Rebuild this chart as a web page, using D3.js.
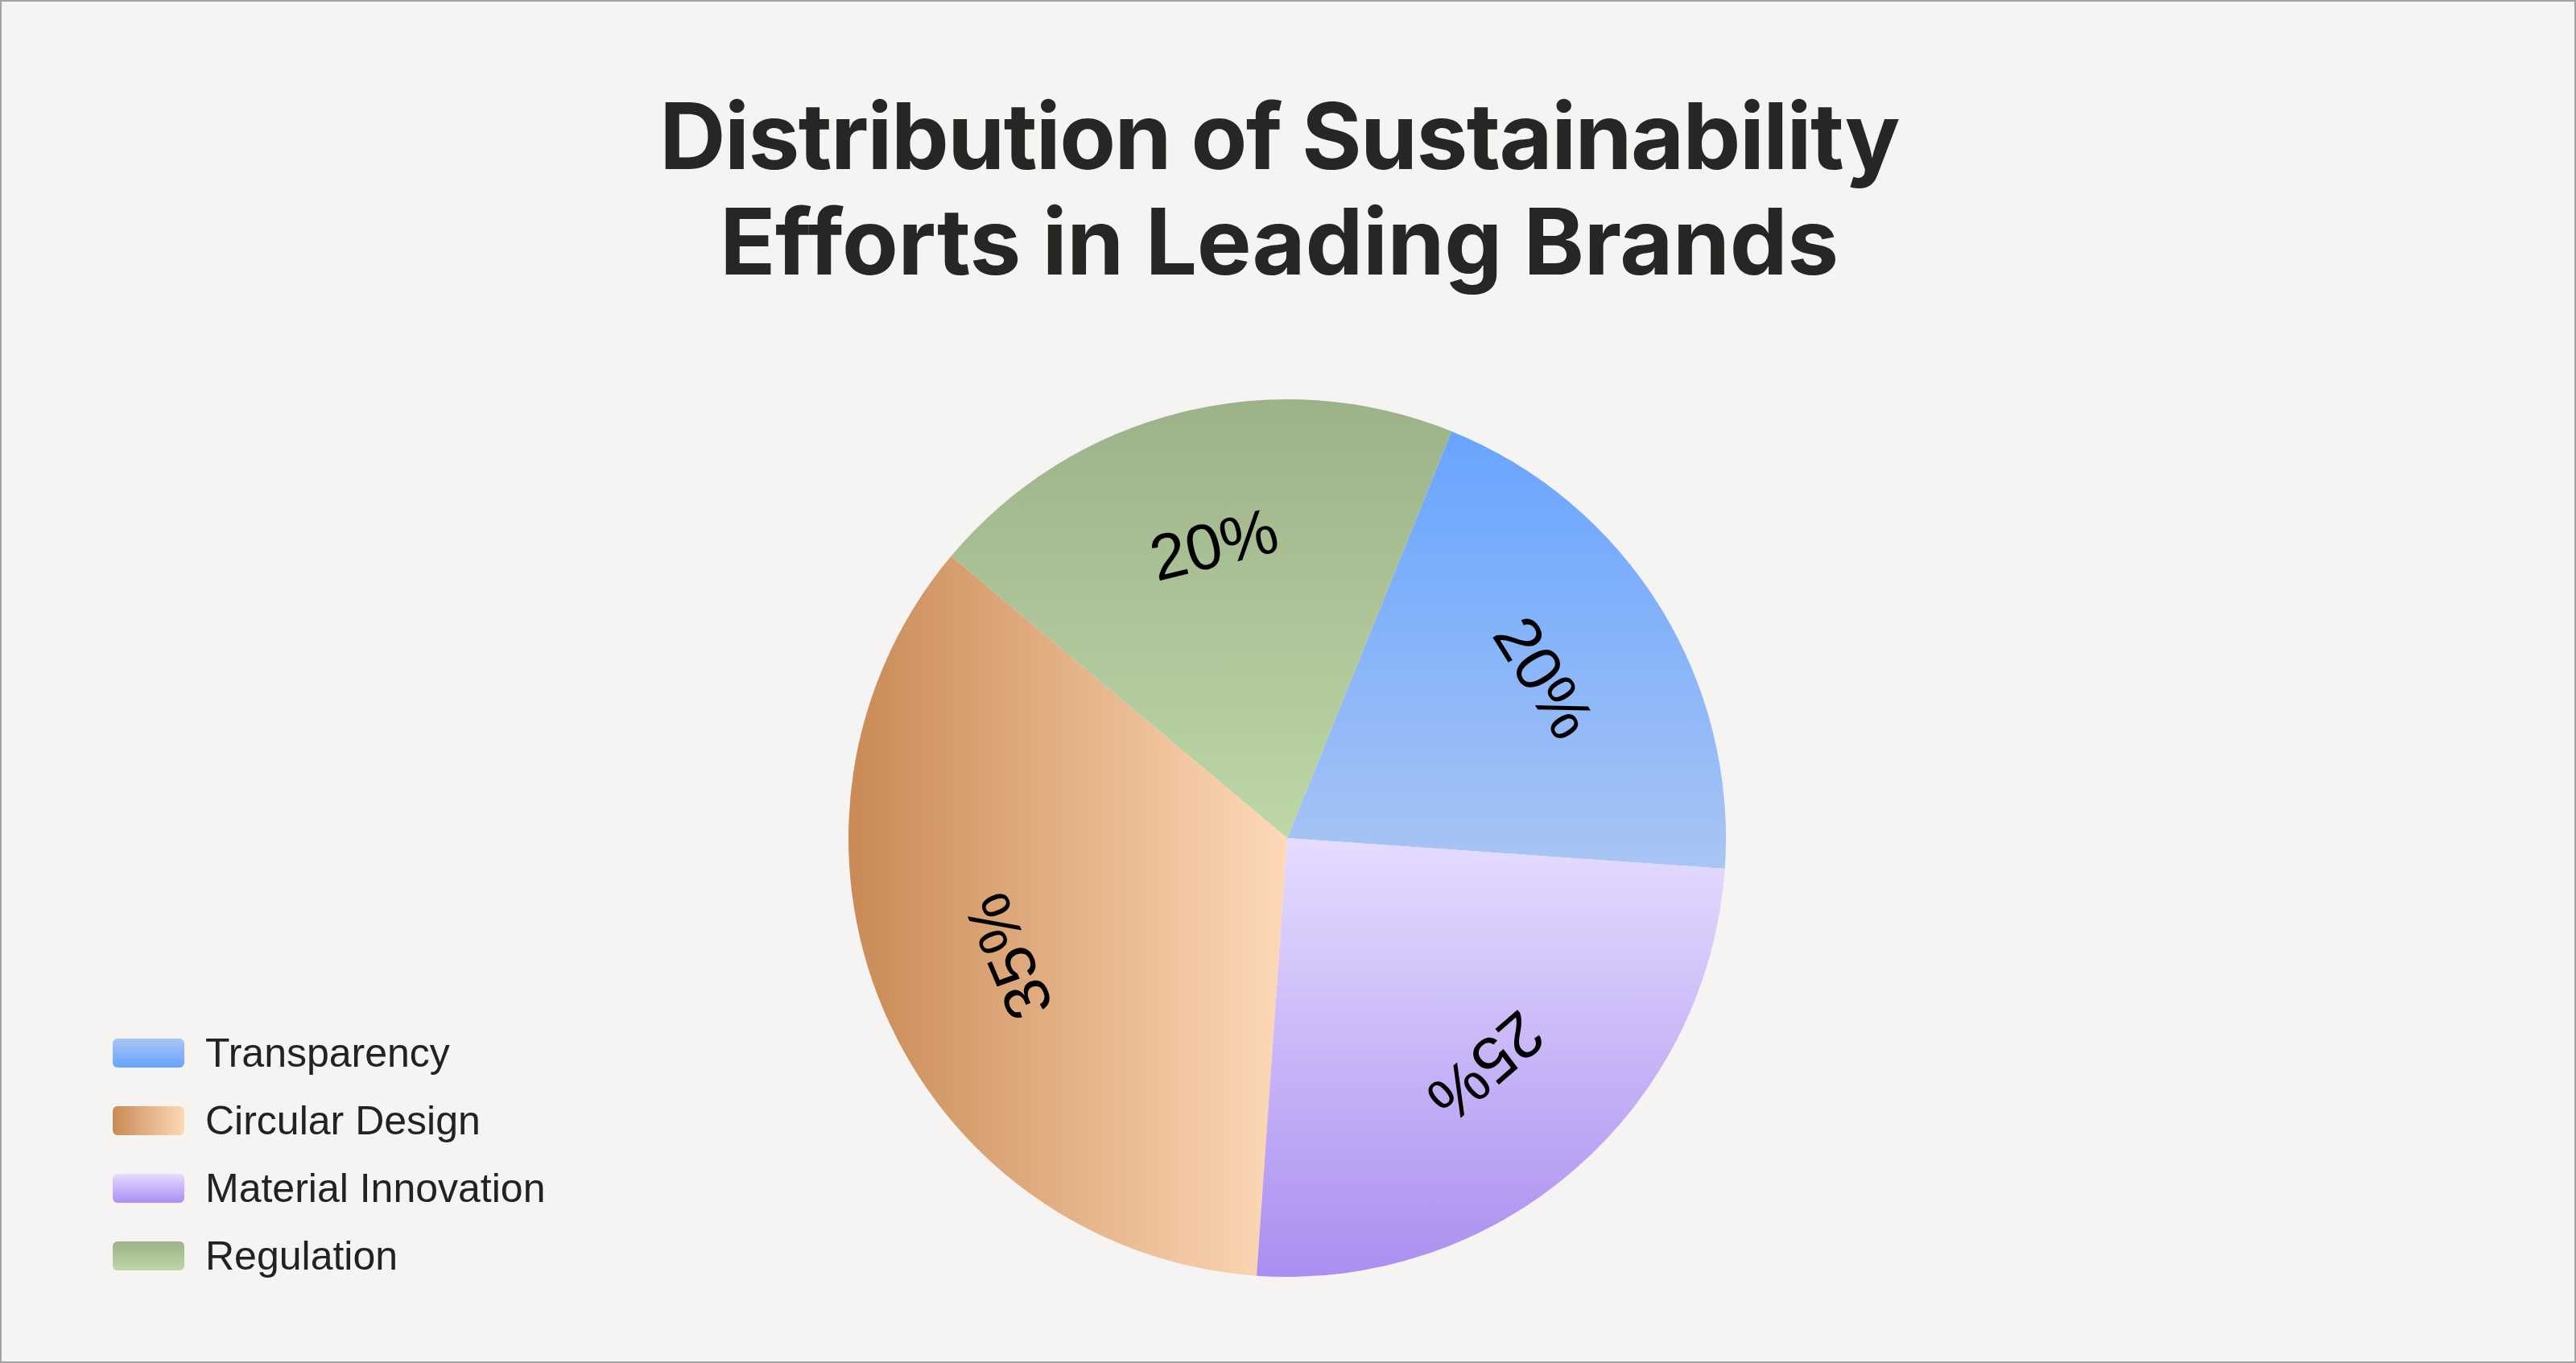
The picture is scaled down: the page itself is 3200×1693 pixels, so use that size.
<!DOCTYPE html>
<html>
<head>
<meta charset="utf-8">
<script src="https://cdn.jsdelivr.net/npm/d3@7"></script>
<style>
  html, body { margin: 0; padding: 0; background: #f5f4f2; }
  svg { display: block; }
</style>
</head>
<body>
<div id="chart"></div>
<script>
// Chart data
const categories = ["Transparency", "Circular Design", "Material Innovation", "Regulation"];
const shares = [20, 35, 25, 20];
// clockwise drawing order around the pie
const pieOrder = ["Transparency", "Material Innovation", "Circular Design", "Regulation"];
const titleLines = ["Distribution of Sustainability", "Efforts in Leading Brands"];

// gradient stops per category: [from, to, direction]
const sliceGradients = {
    "Transparency": ["#68a4ff", "#a8c5f4", "v"],
    "Circular Design": ["#c98a55", "#fed9b8", "h"],
    "Material Innovation": ["#e5dcff", "#ab8ef0", "v"],
    "Regulation": ["#9cb289", "#bdd7a7", "v"]
};
const swatchGradients = {
    "Transparency": ["#a8c5f4", "#68a4ff", "v"],
    "Circular Design": ["#c98a55", "#fed9b8", "h"],
    "Material Innovation": ["#e5dcff", "#ab8ef0", "v"],
    "Regulation": ["#9cb289", "#bdd7a7", "v"]
};

const width = 3200, height = 1693;
const cx = 1599, cy = 1041, radius = 545;

const svg = d3.select("#chart")
    .append("svg")
    .attr("width", width)
    .attr("height", height);

svg.append("rect")
    .attr("x", 1).attr("y", 1)
    .attr("width", width - 2).attr("height", height - 2)
    .attr("fill", "#f5f4f2")
    .attr("stroke", "#a3a3a3")
    .attr("stroke-width", 2);

const defs = svg.append("defs");
function addGradient(id, g) {
    const lg = defs.append("linearGradient")
        .attr("id", id)
        .attr("x1", 0).attr("y1", 0)
        .attr("x2", g[2] === "h" ? 1 : 0)
        .attr("y2", g[2] === "h" ? 0 : 1);
    lg.append("stop").attr("offset", "0%").attr("stop-color", g[0]);
    lg.append("stop").attr("offset", "100%").attr("stop-color", g[1]);
}
categories.forEach((c, i) => {
    addGradient("slice" + i, sliceGradients[c]);
    addGradient("swatch" + i, swatchGradients[c]);
});

// Title
const title = svg.append("g")
    .attr("font-family", "Inter, 'Liberation Sans', sans-serif")
    .attr("font-weight", 700)
    .attr("font-size", 114)
    .attr("fill", "#262624")
    .attr("text-anchor", "middle");
const titleWidths = [1541, 1390];
titleLines.forEach((t, i) => {
    const el = title.append("text")
        .attr("x", 1589)
        .attr("y", 210 + i * 131)
        .text(t);
    const w = el.node().getComputedTextLength();
    const ls = (titleWidths[i] - w) / (t.length - 1);
    el.attr("letter-spacing", ls);
});

// Pie
const data = categories.map((c, i) => ({ name: c, value: shares[i], idx: i }));
const pie = d3.pie()
    .value(d => d.value)
    .sort((a, b) => pieOrder.indexOf(a.name) - pieOrder.indexOf(b.name))
    .startAngle(22 * Math.PI / 180)
    .endAngle(22 * Math.PI / 180 + 2 * Math.PI);

const arc = d3.arc().innerRadius(0).outerRadius(radius);
const labelArc = d3.arc().innerRadius(radius * 0.69).outerRadius(radius * 0.69);

const g = svg.append("g").attr("transform", `translate(${cx},${cy})`);
const arcs = pie(data);

g.selectAll("path.slice")
    .data(arcs)
    .enter()
    .append("path")
    .attr("class", "slice")
    .attr("d", arc)
    .attr("fill", d => `url(#slice${d.data.idx})`);

g.selectAll("text.pct")
    .data(arcs)
    .enter()
    .append("text")
    .attr("class", "pct")
    .attr("transform", d => {
        const [x, y] = labelArc.centroid(d);
        const mid = (d.startAngle + d.endAngle) / 2 * 180 / Math.PI;
        return `translate(${x},${y}) rotate(${mid})`;
    })
    .attr("text-anchor", "middle")
    .attr("dominant-baseline", "central")
    .attr("font-family", "'Liberation Sans', Arial, sans-serif")
    .attr("font-size", 80)
    .attr("fill", "#000")
    .text(d => d.data.value + "%");

// Legend
const legend = svg.append("g").attr("transform", "translate(140,1308)");
const row = legend.selectAll("g")
    .data(categories)
    .enter()
    .append("g")
    .attr("transform", (d, i) => `translate(0,${i * 84})`);
row.append("rect")
    .attr("x", 0).attr("y", -18)
    .attr("width", 89).attr("height", 36)
    .attr("rx", 6)
    .attr("fill", (d, i) => `url(#swatch${i})`);
row.append("text")
    .attr("x", 115)
    .attr("y", 0)
    .attr("dominant-baseline", "central")
    .attr("font-family", "'Liberation Sans', Arial, sans-serif")
    .attr("font-size", 50)
    .attr("fill", "#222")
    .text(d => d);
</script>
</body>
</html>
